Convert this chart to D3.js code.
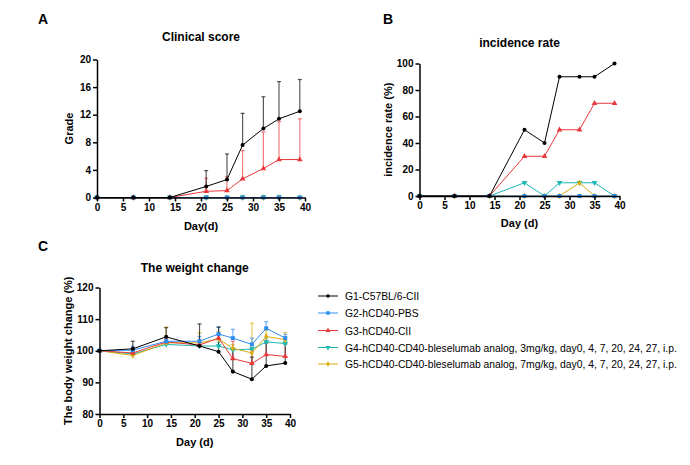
<!DOCTYPE html>
<html>
<head>
<meta charset="utf-8">
<script src="https://cdn.jsdelivr.net/npm/d3@7"></script>
<style>
  body { margin: 0; background: #fff; }
  svg { font-family: "Liberation Sans", Arial, sans-serif; }
</style>
</head>
<body>
<svg id="chart" width="690" height="465"></svg>
<script>
// --- DATA ---
const days = [0, 7, 14, 21, 25, 28, 32, 35, 39];
const groupNames = [
    "G1-C57BL/6-CII",
    "G2-hCD40-PBS",
    "G3-hCD40-CII",
    "G4-hCD40-CD40-bleselumab analog, 3mg/kg, day0, 4, 7, 20, 24, 27, i.p.",
    "G5-hCD40-CD40-bleselumab analog, 7mg/kg, day0, 4, 7, 20, 24, 27, i.p."
];
const groupColors = ["#000000", "#2f8cf0", "#e8393c", "#1cb8b2", "#d9ad0c"];
const groupSymbols = ["circle", "square", "triangle", "triangleDown", "diamond"];

// clinical score (mean, upper error)
const scoreG1 = [0, 0, 0, 1.6, 2.6, 7.6, 10.0, 11.4, 12.5];
const scoreG1Err = [0, 0, 0, 2.3, 3.7, 4.6, 4.6, 5.4, 4.6];
const scoreG2 = [0, 0, 0, 0, 0, 0, 0, 0, 0];
const scoreG2Err = [0, 0, 0, 0, 0, 0, 0, 0, 0];
const scoreG3 = [0, 0, 0, 0.9, 1.0, 2.7, 4.2, 5.5, 5.5];
const scoreG3Err = [0, 0, 0, 1.9, 2.0, 4.1, 5.3, 5.5, 5.9];
const scoreG4 = [0, 0, 0, 0, 0, 0, 0, 0, 0];
const scoreG4Err = [0, 0, 0, 0.25, 0, 0.3, 0.3, 0.3, 0];
const scoreG5 = [0, 0, 0, 0, 0, 0, 0, 0, 0];
const scoreG5Err = [0, 0, 0, 0, 0, 0, 0, 0, 0];

// incidence rate (%)
const incG1 = [0, 0, 0, 50, 40, 90, 90, 90, 100];
const incG2 = [0, 0, 0, 0, 0, 0, 0, 0, 0];
const incG3 = [0, 0, 0, 30, 30, 50, 50, 70, 70];
const incG4 = [0, 0, 0, 10, 0, 10, 10, 10, 0];
const incG5 = [0, 0, 0, 0, 0, 0, 10, 0, 0];

// body weight change (%)
const wtG1 = [100, 100.6, 104.4, 101.5, 99.7, 93.4, 91.0, 95.2, 96.1];
const wtG1Err = [0, 2.4, 2.9, 7.0, 7.8, 7.1, 7.0, 7.2, 6.0];
const wtG2 = [100, 100.2, 103.0, 103.0, 105.3, 104.0, 102.0, 107.1, 104.0];
const wtG2Err = [0, 1.2, 0.6, 1.5, 2.2, 2.8, 2.0, 2.1, 1.2];
const wtG3 = [100, 99.3, 102.8, 101.8, 104.0, 97.5, 96.0, 98.8, 98.2];
const wtG3Err = [0, 1.5, 1.2, 1.5, 1.2, 5.5, 4.0, 4.5, 4.3];
const wtG4 = [100, 99.0, 102.0, 101.5, 101.5, 100.3, 100.5, 102.8, 102.3];
const wtG4Err = [0, 0.8, 1.0, 1.0, 1.2, 0.6, 0.6, 1.2, 0.8];
const wtG5 = [100, 98.5, 102.5, 102.5, 103.7, 100.8, 99.3, 104.5, 103.5];
const wtG5Err = [0, 1.2, 5.0, 3.2, 2.3, 1.2, 9.4, 2.0, 2.3];

const xTicks = [0, 5, 10, 15, 20, 25, 30, 35, 40];

// draw order (back to front)
const drawOrder = [3, 4, 2, 1, 0];

function symbolPath(kind, size) {
    const s = size;
    if (kind === "circle") return d3.symbol(d3.symbolCircle, s * s * 0.8)();
    if (kind === "square") return d3.symbol(d3.symbolSquare, s * s)();
    if (kind === "triangle") return d3.symbol(d3.symbolTriangle, s * s * 0.9)();
    if (kind === "diamond") return d3.symbol(d3.symbolDiamond, s * s * 0.8)();
    // down triangle
    return d3.symbol(d3.symbolTriangle, s * s * 0.9)();
}

function renderPanel(svg, opt) {
    const { x0, x1, y0, y1, yDomain, yTicks, title, titleY, xLabel, xLabelY, yLabel, yLabelX, series } = opt;
    const x = d3.scaleLinear().domain([0, 40]).range([x0, x1]);
    const y = d3.scaleLinear().domain(yDomain).range([y0, y1]);
    const g = svg.append("g");

    // Title
    g.append("text")
        .attr("x", (x0 + x1) / 2)
        .attr("y", titleY)
        .attr("text-anchor", "middle")
        .attr("font-size", 12)
        .attr("font-weight", "bold")
        .text(title);

    // Error bars (above only, GraphPad style)
    drawOrder.forEach(gi => {
        const s = series[gi];
        if (!s.err) return;
        const eg = g.append("g")
            .attr("stroke", groupColors[gi])
            .attr("stroke-opacity", 0.65)
            .attr("stroke-width", 1.2);
        days.forEach((d, i) => {
            if (!s.err[i]) return;
            const top = y(s.values[i] + s.err[i]);
            eg.append("line")
                .attr("x1", x(d)).attr("x2", x(d))
                .attr("y1", y(s.values[i])).attr("y2", top);
            eg.append("line")
                .attr("x1", x(d) - 2).attr("x2", x(d) + 2)
                .attr("y1", top).attr("y2", top);
        });
    });

    // Lines + markers
    const line = d3.line()
        .x((v, i) => x(days[i]))
        .y(v => y(v));
    drawOrder.forEach(gi => {
        const s = series[gi];
        g.append("path")
            .attr("d", line(s.values))
            .attr("fill", "none")
            .attr("stroke", groupColors[gi])
            .attr("stroke-width", 1);
        g.append("g").selectAll("path")
            .data(s.values)
            .join("path")
            .attr("transform", (v, i) => `translate(${x(days[i])},${y(v)})` + (groupSymbols[gi] === "triangleDown" ? " rotate(180)" : ""))
            .attr("d", symbolPath(groupSymbols[gi], 4))
            .attr("fill", groupColors[gi]);
    });

    // Axes
    g.append("g")
        .attr("transform", `translate(0,${y0})`)
        .call(d3.axisBottom(x).tickValues(xTicks).tickSize(4).tickSizeOuter(0).tickPadding(2))
        .call(ax => ax.selectAll("path, line").attr("stroke-width", 1.5))
        .call(ax => ax.selectAll("text").attr("font-size", 10).attr("font-weight", "bold")
            .attr("font-family", "Liberation Sans, Arial, sans-serif").attr("fill", "#000"));
    g.append("g")
        .attr("transform", `translate(${x0},0)`)
        .call(d3.axisLeft(y).tickValues(yTicks).tickSize(4).tickSizeOuter(0).tickPadding(2))
        .call(ax => ax.selectAll("path, line").attr("stroke-width", 1.5))
        .call(ax => ax.selectAll("text").attr("font-size", 10).attr("font-weight", "bold")
            .attr("font-family", "Liberation Sans, Arial, sans-serif").attr("fill", "#000"));

    // Axis labels
    g.append("text")
        .attr("x", (x0 + x1) / 2)
        .attr("y", xLabelY)
        .attr("text-anchor", "middle")
        .attr("font-size", 11)
        .attr("font-weight", "bold")
        .text(xLabel);
    g.append("text")
        .attr("transform", `translate(${yLabelX},${(y0 + y1) / 2}) rotate(-90)`)
        .attr("text-anchor", "middle")
        .attr("font-size", 11)
        .attr("font-weight", "bold")
        .text(yLabel);
}

function renderChart() {
    const svg = d3.select("#chart");
    svg.selectAll("*").remove();

    // Panel letters
    [["A", 38, 24], ["B", 383, 24], ["C", 38, 251]].forEach(([t, lx, ly]) => {
        svg.append("text").attr("x", lx).attr("y", ly)
            .attr("font-size", 14).attr("font-weight", "bold").text(t);
    });

    renderPanel(svg, {
        x0: 97, x1: 305, y0: 197.5, y1: 59.5,
        yDomain: [0, 20], yTicks: [0, 4, 8, 12, 16, 20],
        title: "Clinical score", titleY: 41,
        xLabel: "Day(d)", xLabelY: 230,
        yLabel: "Grade", yLabelX: 73,
        series: [
            { values: scoreG1, err: scoreG1Err },
            { values: scoreG2, err: scoreG2Err },
            { values: scoreG3, err: scoreG3Err },
            { values: scoreG4, err: scoreG4Err },
            { values: scoreG5, err: scoreG5Err }
        ]
    });

    renderPanel(svg, {
        x0: 419.5, x1: 619.5, y0: 196, y1: 63.5,
        yDomain: [0, 100], yTicks: [0, 20, 40, 60, 80, 100],
        title: "incidence rate", titleY: 47,
        xLabel: "Day (d)", xLabelY: 227,
        yLabel: "incidence rate (%)", yLabelX: 392,
        series: [
            { values: incG1 }, { values: incG2 }, { values: incG3 },
            { values: incG4 }, { values: incG5 }
        ]
    });

    renderPanel(svg, {
        x0: 99.5, x1: 290, y0: 414, y1: 287.5,
        yDomain: [80, 120], yTicks: [80, 90, 100, 110, 120],
        title: "The weight change", titleY: 272,
        xLabel: "Day (d)", xLabelY: 446,
        yLabel: "The body weight change (%)", yLabelX: 72,
        series: [
            { values: wtG1, err: wtG1Err },
            { values: wtG2, err: wtG2Err },
            { values: wtG3, err: wtG3Err },
            { values: wtG4, err: wtG4Err },
            { values: wtG5, err: wtG5Err }
        ]
    });

    // Legend
    const legend = svg.append("g");
    const legendY = [296, 313, 330.5, 347.5, 364];
    const texts = [];
    groupNames.forEach((name, i) => {
        const row = legend.append("g").attr("transform", `translate(318,${legendY[i]})`);
        row.append("line").attr("x1", 0).attr("x2", 20)
            .attr("stroke", groupColors[i]).attr("stroke-width", 1);
        row.append("path")
            .attr("transform", `translate(10,0)` + (groupSymbols[i] === "triangleDown" ? " rotate(180)" : ""))
            .attr("d", symbolPath(groupSymbols[i], 3.5))
            .attr("fill", groupColors[i]);
        texts.push(row.append("text").attr("x", 27).attr("y", 4)
            .attr("font-size", 10).attr("fill", "#000").text(name));
    });
    // fit the longest legend entry so it ends near x = 677
    const longest = d3.max(texts, t => t.node().getComputedTextLength());
    const fs = Math.min(11, 10 * (677 - 345) / longest);
    texts.forEach(t => t.attr("font-size", fs));
}

renderChart();
</script>
</body>
</html>
